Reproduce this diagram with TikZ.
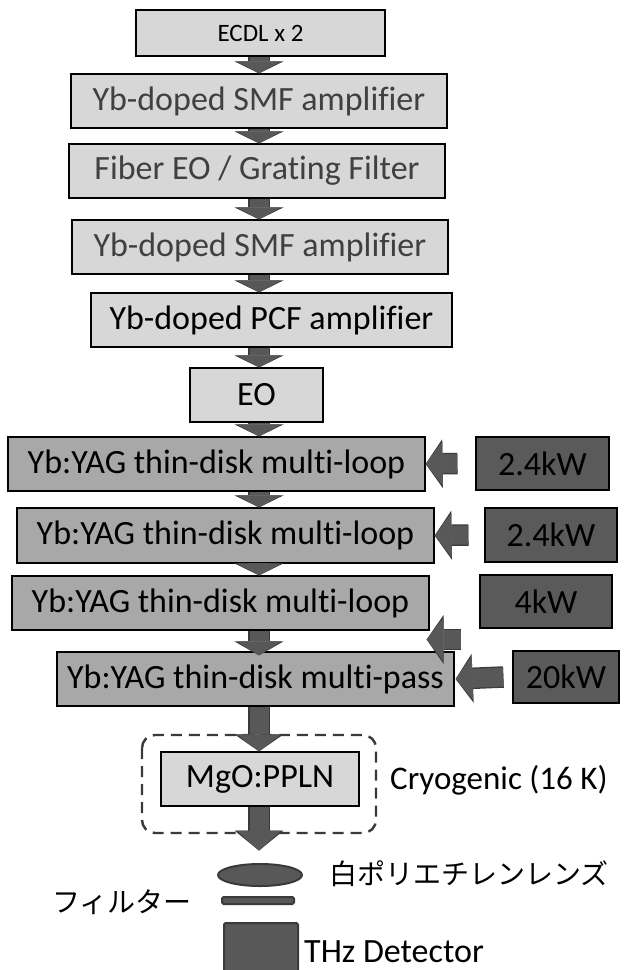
\documentclass[tikz,border=0pt]{standalone}
\usepackage{fontspec}
\setmainfont{Carlito}[Ligatures=NoCommon]
\newfontfamily\jpfont{Noto Sans CJK JP}
\usetikzlibrary{arrows.meta}
\definecolor{boxlight}{RGB}{215,215,215}
\definecolor{boxmid}{RGB}{168,168,168}
\definecolor{boxdark}{RGB}{90,90,90}
\definecolor{arrowfill}{RGB}{88,88,88}
\definecolor{arrowedge}{RGB}{58,58,58}
\definecolor{textgray}{RGB}{64,64,64}

\begin{document}
\begin{tikzpicture}[x=1pt,y=-1pt,
  stage/.style={draw=black,line width=1.2pt,fill=boxlight,inner sep=0pt,
    minimum height=54pt,font=\fontsize{34}{38}\selectfont},
  disk/.style={stage,fill=boxmid,minimum width=417pt},
  pump/.style={stage,fill=boxdark,minimum height=53pt},
  label/.style={inner sep=0pt,font=\fontsize{33}{36}\selectfont},
  jplabel/.style={inner sep=0pt,font=\jpfont\fontsize{28}{32}\selectfont},
  fatarrow/.style={draw=arrowfill,line width=19pt,
    -{Triangle[length=#1,width=44pt,line width=0pt]},
    preaction={draw=arrowedge,line width=21.5pt,
      -{Triangle[length=#1,width=49pt,line width=0pt]}}},
  fatarrow/.default=12pt,
  sidearrow/.style={fatarrow=17pt}]
  \useasboundingbox (0,0) rectangle (624,970);

  % fiber front end
  \node[stage,minimum width=249pt,minimum height=46pt,
    font=\fontsize{25}{28}\selectfont] (ecdl) at (260.5,33) {ECDL x 2};
  \node[stage,minimum width=376pt,text=textgray] (smfa) at (259,101) {Yb-doped SMF amplifier};
  \node[stage,minimum width=376pt,text=textgray] (feo) at (257,171) {Fiber EO / Grating Filter};
  \node[stage,minimum width=376pt,text=textgray] (smfb) at (260,247) {Yb-doped SMF amplifier};
  \node[stage,minimum width=361pt] (pcf) at (271.5,320) {Yb-doped PCF amplifier};
  \node[stage,minimum width=133pt] (eo) at (256.5,395) {EO};

  % thin-disk stages and their pumps
  \node[disk] (mla) at (216.5,464) {Yb:YAG thin-disk multi-loop};
  \node[disk,minimum height=55pt] (mlb) at (225.5,535.5) {Yb:YAG thin-disk multi-loop};
  \node[disk] (mlc) at (220.5,603) {Yb:YAG thin-disk multi-loop};
  \node[disk,minimum width=397pt] (mp) at (255.5,679) {Yb:YAG thin-disk multi-pass};
  \node[pump,minimum width=133pt] (pwa) at (542.5,463.5) {2.4kW};
  \node[pump,minimum width=132pt,minimum height=54pt] (pwb) at (551,535) {2.4kW};
  \node[pump,minimum width=132pt] (pwc) at (546,601.5) {4kW};
  \node[pump,minimum width=106pt,minimum height=52pt] (pwd) at (566,677) {20kW};

  % cryostat with the crystal
  \draw[arrowedge,line width=2.4pt,dash pattern=on 11pt off 7pt,rounded corners=13pt]
    (142,735) rectangle (376,833);
  \node[stage,minimum width=198pt] (ppln) at (260,779) {MgO:PPLN};
  \node[label,anchor=west] (cryo) at (390,780) {Cryogenic (16 K)};

  % lens, filter and detector
  \draw[arrowedge,fill=arrowfill,line width=2pt] (260,875) ellipse (42pt and 11pt);
  \draw[arrowedge,fill=arrowfill,line width=2pt,rounded corners=1.5pt]
    (222,897) rectangle (294,904);
  \draw[arrowedge,fill=arrowfill,line width=2pt,rounded corners=2pt]
    (224,923) rectangle (298,975);
  \node[jplabel,anchor=west] (lens) at (329,874) {白ポリエチレンレンズ};
  \node[jplabel,anchor=east] (filter) at (192,902) {フィルター};
  \node[label,anchor=west,font=\fontsize{34}{38}\selectfont] (thz) at (304,952) {THz Detector};

  % beam path
  \coordinate (axis) at (259,0);
  \draw[fatarrow] (ecdl.south -| axis) -- (smfa.north -| axis);
  \draw[fatarrow] (smfa.south -| axis) -- (feo.north -| axis);
  \draw[fatarrow] (feo.south -| axis) -- (smfb.north -| axis);
  \draw[fatarrow] (smfb.south -| axis) -- (pcf.north -| axis);
  \draw[fatarrow] (pcf.south -| axis) -- (eo.north -| axis);
  \draw[fatarrow] (eo.south -| axis) -- (mla.north -| axis);
  \draw[fatarrow] (mla.south -| axis) -- (mlb.north -| axis);
  \draw[fatarrow] (mlb.south -| axis) -- (mlc.north -| axis);
  \draw[fatarrow=14pt] (mlc.south -| axis) -- ([yshift=-4pt]mp.north -| axis);
  \draw[fatarrow=17pt] (mp.south -| axis) -- (ppln.north -| axis);
  \draw[fatarrow=20pt] (ppln.south -| axis) -- ([yshift=-44pt]ppln.south -| axis);

  % pump light
  \coordinate (pc) at ([xshift=-18pt,yshift=-38pt]pwc.west);
  \draw[sidearrow] ([xshift=-18pt]pwa.west) -- (mla.east);
  \draw[sidearrow] ([xshift=-16pt]pwb.west) -- (mlb.east);
  \draw[sidearrow] (pc) -- ([xshift=-3pt]pc -| mlc.east);
  \draw[sidearrow] ([xshift=-9pt]pwd.west) -- ([xshift=1pt]mp.east);
\end{tikzpicture}
\end{document}
